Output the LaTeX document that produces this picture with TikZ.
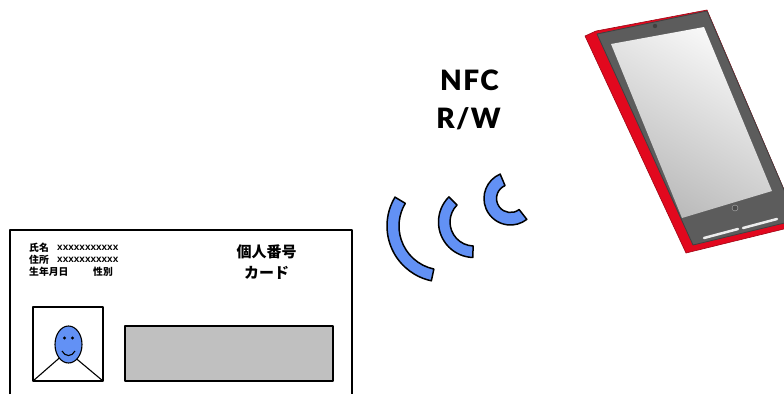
\documentclass[tikz,border=0pt]{standalone}
\usepackage{fontspec}
\setmainfont{Lato}
\newfontfamily\jpfont{Noto Sans CJK JP Black}
\newfontfamily\fieldfont{Liberation Sans Bold}
\newfontfamily\nfcfont{Lato Black}[LetterSpace=5]
\usetikzlibrary{calc}
\definecolor{iconblue}{RGB}{98,145,245}
\definecolor{photogray}{RGB}{192,192,192}
\definecolor{bodyred}{RGB}{226,8,30}
\definecolor{bezel}{RGB}{92,92,92}

\begin{document}
\begin{tikzpicture}[x=1pt, y=-1pt, line join=round,
    outline/.style={draw=black, line width=1.1pt},
    wave/.style={fill=iconblue, draw=black, line width=1.5pt},
    small/.style={anchor=base west, inner sep=0pt, font=\jpfont\fontsize{9.8}{12}\selectfont},
    cardtitle/.style={anchor=base, inner sep=0pt, font=\jpfont\fontsize{15}{18}\selectfont},
    nfclabel/.style={anchor=base, inner sep=0pt, font=\nfcfont\fontsize{28}{32}\selectfont}]
  \useasboundingbox (0,0) rectangle (784,394);

  % card
  \draw[outline] (10,394) -- (10,230) -- (352,230) -- (352,394);
  \node[small] (name) at (29,251) {氏名};
  \node[small] (addr) at (29,263) {住所};
  \node[small] (namex) at (57,250.5) {\fieldfont\fontsize{10}{12}\selectfont xxxxxxxxxxx};
  \node[small] (addrx) at (57,262.5) {\fieldfont\fontsize{10}{12}\selectfont xxxxxxxxxxx};
  \node[small] (birth) at (29,275) {生年月日};
  \node[small] (sex) at (93,275) {性別};
  \node[cardtitle] (title) at (266.5,257) {個人番号};
  \node[cardtitle] (kana) at (266.5,278) {カード};

  \draw[outline] (33,307) rectangle (103,381);
  \draw[outline] (60.6,356.9) -- (33,381) (74.2,356.9) -- (103,381);
  \draw[outline, fill=iconblue] (68.5,344.5) ellipse [x radius=13.5, y radius=18.5];
  \fill (64.5,338) circle (1.6) (72.5,338) circle (1.6);
  \draw[line width=1.1pt] (62,351) .. controls (65,357) and (72,357) .. (75,351);
  \draw[outline, fill=photogray] (125,326) rectangle (333,381);

  % waves
  \foreach \cx/\cy/\ro/\ri/\sa/\ea in {443/226/56/44/149/258, 474/222/35.5/24/135/268, 510.5/198.5/26.5/14/113/308}
    \draw[wave] (\cx,\cy) ++(-\sa:\ro) arc[start angle=-\sa, end angle=-\ea, radius=\ro]
      -- ($(\cx,\cy)+(-\ea:\ri)$) arc[start angle=-\ea, end angle=-\sa, radius=\ri] -- cycle;

  \node[nfclabel] (nfc) at (469.5,90) {NFC};
  \node[nfclabel] (rw) at (468.5,128) {R/W};

  % phone
  \filldraw[fill=bodyred, draw=bodyred!70!black, line width=0.6pt]
    (585,36) -- (596,31) -- (707,10) -- (797,220) -- (788,228) -- (686,253) -- cycle;
  \filldraw[fill=bezel, draw=bezel!70!black, line width=0.8pt]
    (597,34) -- (707,11) -- (797,220) -- (693,245) -- cycle;
  \shade[left color=gray!5, right color=gray!55, shading angle=-30]
    (611,44) -- (704,27) -- (772,191) -- (682,218) -- cycle;
  \fill[black!75] (655,26) circle (2.2);
  \filldraw[fill=black!70, draw=gray!60] (735,208) circle (3);
  \draw[gray!15, line width=2.5pt, line cap=round] (704,238) -- (738,229) (743,228) -- (777,219);
\end{tikzpicture}
\end{document}
